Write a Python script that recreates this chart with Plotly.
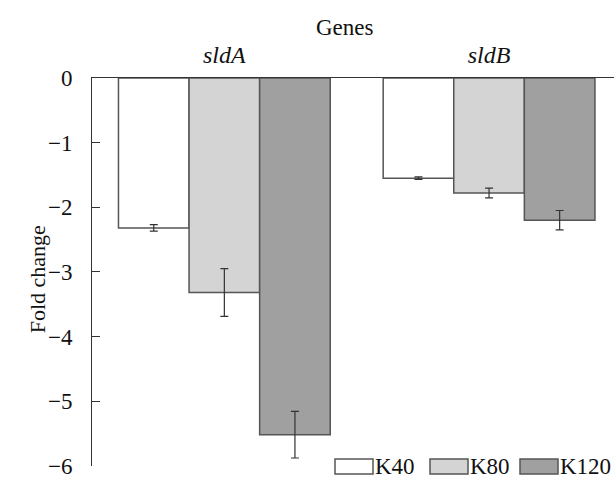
import plotly.graph_objects as go

genes = ["<i>sldA</i>", "<i>sldB</i>"]
series = ["K40", "K80", "K120"]
values = {
    "K40": [-2.32, -1.55],
    "K80": [-3.32, -1.78],
    "K120": [-5.52, -2.20],
}
errors = {
    "K40": [0.05, 0.02],
    "K80": [0.37, 0.075],
    "K120": [0.36, 0.15],
}
colors = {"K40": "#ffffff", "K80": "#d4d4d4", "K120": "#a0a0a0"}
y_ticks = [0, -1, -2, -3, -4, -5, -6]

FONT = "Liberation Serif, Times New Roman, serif"
TOP, BOTTOM = 78, 13

fig = go.Figure()
for s in series:
    fig.add_trace(go.Bar(
        x=genes, y=values[s], name=s,
        marker=dict(color=colors[s], line=dict(color="#555555", width=1.5)),
        error_y=dict(type="data", array=errors[s], visible=True,
                     color="#333333", thickness=1.2, width=4),
        showlegend=False,
    ))

fig.update_layout(
    width=614, height=479,
    margin=dict(l=92, r=0, t=TOP, b=BOTTOM, autoexpand=False),
    paper_bgcolor="white", plot_bgcolor="white",
    barmode="group", bargap=0.2, bargroupgap=0,
    font=dict(family=FONT, size=23, color="#111111"),
    showlegend=False,
)
fig.update_xaxes(
    side="top", range=[-0.5, 1.472], showline=True, linecolor="#333333",
    linewidth=1, ticks="", showgrid=False, zeroline=False, automargin=False,
    tickfont=dict(family=FONT, size=24), ticklabelstandoff=4,
)
fig.update_yaxes(
    range=[-6.004, 0], tickvals=y_ticks,
    ticktext=[("\u2212" + str(abs(v))) if v < 0 else str(v) for v in y_ticks],
    showline=True, linecolor="#333333", linewidth=1,
    ticks="inside", ticklen=8, tickcolor="#333333", tickwidth=1,
    showgrid=False, zeroline=False, ticklabelstandoff=14,
    ticklabeloverflow="allow", automargin=False,
    tickfont=dict(family=FONT, size=23),
)

# axis titles
fig.add_annotation(text="Genes", xref="paper", yref="paper", x=0.484, y=1.0,
                   yanchor="middle", yshift=51, showarrow=False,
                   font=dict(family=FONT, size=23))
fig.add_annotation(text="Fold change", xref="paper", yref="paper", x=0, xshift=-69,
                   y=0.48, yanchor="middle", textangle=-90, showarrow=False,
                   font=dict(family=FONT, size=22))

# legend drawn at bottom right
plot_w = 614 - 92
plot_h = 479 - TOP - BOTTOM
pb = 479 - BOTTOM
leg_items = [("K40", 335), ("K80", 430), ("K120", 520)]
for name, px in leg_items:
    x0 = (px - 92) / plot_w
    x1 = (px + 38 - 92) / plot_w
    y0 = (pb - 474) / plot_h
    y1 = (pb - 459) / plot_h
    fig.add_shape(type="rect", xref="paper", yref="paper", x0=x0, x1=x1,
                  y0=y0, y1=y1, fillcolor=colors[name],
                  line=dict(color="#555555", width=1.5))
    fig.add_annotation(text=name, xref="paper", yref="paper", x=x1, xshift=0,
                       y=(y0 + y1) / 2, xanchor="left", yanchor="middle",
                       showarrow=False, font=dict(family=FONT, size=23))

fig.write_html("out.html", config={"displayModeBar": False},
               post_script="document.body.style.margin='0';")
